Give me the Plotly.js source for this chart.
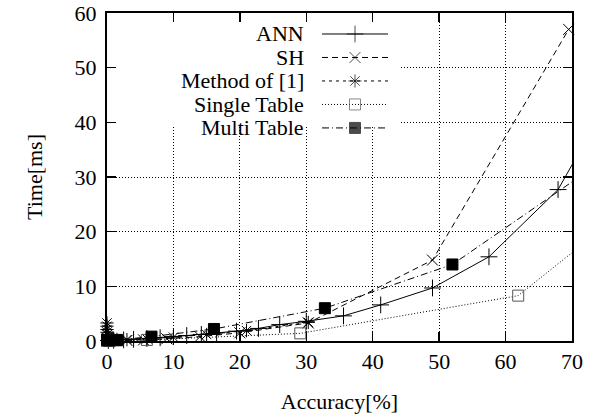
<!DOCTYPE html>
<html>
<head>
<meta charset="utf-8">
<script src="https://cdn.plot.ly/plotly-3.0.1.min.js"></script>
<style>html,body{margin:0;padding:0;background:#fff;}#chart{width:603px;height:416px;}</style>
</head>
<body>
<div id="chart"></div>
<script>
// ---- data ----
var seriesNames = ["ANN", "SH", "Method of [1]", "Single Table", "Multi Table"];

var annX = [0.2, 1.0, 2.5, 4.0, 6.0, 8.0, 10.0, 12.0, 14.2, 16.5, 19.5, 22.8, 26.0, 30.0, 35.6, 41.2, 49.0, 57.5, 67.9, 72.0];
var annY = [0.1, 0.15, 0.2, 0.3, 0.45, 0.6, 0.8, 1.0, 1.2, 1.5, 1.8, 2.3, 3.0, 3.6, 4.6, 6.6, 9.7, 15.4, 27.7, 36.5];

var shX = [0.0, 0.1, 0.3, 0.6, 1.2, 3.0, 5.5, 9.0, 14.0, 20.0, 30.3, 49.0, 69.5];
var shY = [0.5, 0.3, 0.2, 0.15, 0.1, 0.1, 0.2, 0.4, 0.8, 1.5, 3.3, 14.8, 57.0];

var methodX = [0.0, 0.0, 0.0, 0.0, 0.1, 0.2, 0.4, 0.8, 1.5, 3.0, 6.0, 10.0, 15.0, 21.0, 30.3];
var methodY = [3.3, 2.7, 2.1, 1.6, 1.2, 0.9, 0.6, 0.4, 0.3, 0.25, 0.4, 0.7, 1.2, 1.9, 3.4];

var singleX = [0.0, 0.5, 1.5, 6.0, 29.1, 61.9, 75.0];
var singleY = [0.0, 0.05, 0.1, 0.2, 1.4, 8.3, 21.0];

var multiX = [0.0, 0.3, 1.5, 6.7, 16.1, 32.8, 52.0, 75.0];
var multiY = [0.2, 0.1, 0.2, 0.8, 2.2, 6.0, 14.0, 33.3];

var xTicks = [0, 10, 20, 30, 40, 50, 60, 70];
var yTicks = [0, 10, 20, 30, 40, 50, 60];

// ---- styles ----
var FONT = "Liberation Serif";
var styles = [
  {dash: "solid",              symbol: "cross-thin-open", size: 12, color: "#000"},
  {dash: "6px,4px",            symbol: "x-thin-open",     size: 11, color: "#000"},
  {dash: "3px,4px",            symbol: "asterisk-open",   size: 11, color: "#000"},
  {dash: "1px,2px",            symbol: "square-open",     size: 11, color: "#555"},
  {dash: "7px,3px,1px,3px",    symbol: "square",          size: 11, color: "#000"}
];
var xs = [annX, shX, methodX, singleX, multiX];
var ys = [annY, shY, methodY, singleY, multiY];

var traces = [];
for (var i = 0; i < seriesNames.length; i++) {
  var s = styles[i];
  traces.push({
    type: "scatter", mode: "lines+markers", name: seriesNames[i],
    x: xs[i], y: ys[i], cliponaxis: false,
    line: {color: "#000", width: 1, dash: s.dash},
    marker: {symbol: s.symbol, size: s.size, color: s.color, line: {color: s.color, width: 1}}
  });
}

// ---- custom gnuplot-style key (text right, sample on the right) ----
var keyTop = 0.936, keyStep = 0.0716;
var annotations = [];
for (var k = 0; k < seriesNames.length; k++) {
  var yy = keyTop - k * keyStep;
  var s2 = styles[k];
  traces.push({
    type: "scatter", mode: "lines+markers", xaxis: "x2", yaxis: "y2", showlegend: false, hoverinfo: "skip",
    x: [0, 1, 2], y: [yy, yy, yy],
    line: {color: "#000", width: 1, dash: s2.dash},
    marker: {symbol: s2.symbol, size: [0, s2.size, 0], color: s2.color, line: {color: s2.color, width: 1}}
  });
  annotations.push({
    xref: "paper", yref: "paper", x: 0.428, y: yy, xanchor: "right", yanchor: "middle",
    text: seriesNames[k], showarrow: false, font: {family: FONT, size: 22, color: "#000"}
  });
}

var axisCommon = {
  showline: true, linecolor: "#000", linewidth: 2, mirror: "ticks",
  ticks: "inside", ticklen: 9, tickwidth: 1.5, tickcolor: "#000",
  showgrid: true, gridcolor: "#000", gridwidth: 1, griddash: "1px,2px",
  zeroline: false, tickfont: {family: FONT, size: 22, color: "#000"}
};

var layout = {
  width: 603, height: 416,
  margin: {l: 107, r: 31, t: 13, b: 75},
  paper_bgcolor: "#fff", plot_bgcolor: "rgba(0,0,0,0)",
  showlegend: false,
  font: {family: FONT, size: 22, color: "#000"},
  xaxis: Object.assign({}, axisCommon, {
    range: [0, 70], tickmode: "array", tickvals: xTicks,
    title: {text: "Accuracy[%]", font: {family: FONT, size: 22}, standoff: 20}
  }),
  yaxis: Object.assign({}, axisCommon, {
    range: [0, 60], tickmode: "array", tickvals: yTicks, ticklabelstandoff: 4,
    title: {text: "Time[ms]", font: {family: FONT, size: 22}, standoff: 26}
  }),
  xaxis2: {domain: [0.4624, 0.6043], range: [0, 2], visible: false, anchor: "y2", fixedrange: true},
  yaxis2: {domain: [0, 1], range: [0, 1], visible: false, anchor: "x2", fixedrange: true},
  shapes: [{
    type: "rect", xref: "x", yref: "y", x0: 0, x1: 44, y0: 39.3, y1: 60,
    fillcolor: "#fff", line: {width: 0}, layer: "between"
  }],
  annotations: annotations
};

Plotly.newPlot("chart", traces, layout, {staticPlot: true, displayModeBar: false});
</script>
</body>
</html>
